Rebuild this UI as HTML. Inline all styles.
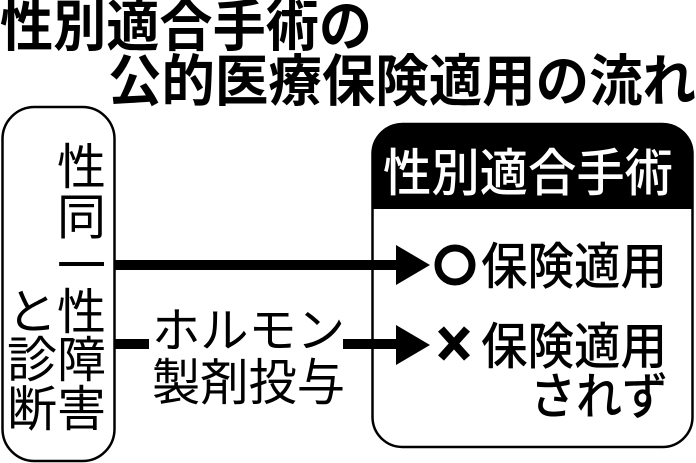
<!DOCTYPE html>
<html><head><meta charset="utf-8"><style>
html,body{margin:0;padding:0;background:#fff;width:696px;height:463px;overflow:hidden}
svg{display:block}
text{font-family:"Liberation Sans","Noto Sans CJK JP",sans-serif;fill:#000}
.b{font-weight:700}
.m{font-weight:500}
.r{font-weight:400}
</style></head><body>
<svg width="696" height="463" viewBox="0 0 696 463" xmlns="http://www.w3.org/2000/svg">
<rect width="696" height="463" fill="#fff"/>
<text class="b" x="0" y="46" font-size="56" textLength="372" lengthAdjust="spacingAndGlyphs">性別適合手術の</text>
<text class="b" x="108" y="101" font-size="56" textLength="588" lengthAdjust="spacingAndGlyphs">公的医療保険適用の流れ</text>

<rect x="2.5" y="107" width="112" height="354" rx="32" fill="#fff" stroke="#000" stroke-width="2.5"/>
<path d="M372.5 154a30 30 0 0 1 30-30h260a30 30 0 0 1 30 30v55h-320z" fill="#000"/>
<rect x="372.5" y="124" width="320" height="323" rx="30" fill="none" stroke="#000" stroke-width="2.5"/>

<g class="r" font-size="49">
<text x="57" y="184" textLength="49" lengthAdjust="spacingAndGlyphs">性</text>
<text x="57" y="234" textLength="49" lengthAdjust="spacingAndGlyphs">同</text>
<text x="57" y="283" textLength="49" lengthAdjust="spacingAndGlyphs">一</text>
<text x="57" y="329" textLength="49" lengthAdjust="spacingAndGlyphs">性</text>
<text x="57" y="377" textLength="49" lengthAdjust="spacingAndGlyphs">障</text>
<text x="57" y="426" textLength="49" lengthAdjust="spacingAndGlyphs">害</text>
<text x="7" y="329" textLength="50" lengthAdjust="spacingAndGlyphs">と</text>
<text x="7" y="377" textLength="50" lengthAdjust="spacingAndGlyphs">診</text>
<text x="7" y="426" textLength="50" lengthAdjust="spacingAndGlyphs">断</text>
</g>

<rect x="115" y="260" width="285" height="10"/>
<polygon points="396,245 430,265 396,285"/>
<rect x="115" y="339" width="34" height="10"/>
<rect x="343" y="339" width="57" height="10"/>
<polygon points="396,325 430,345 396,365"/>

<text class="r" x="152" y="347" font-size="48" textLength="193" lengthAdjust="spacingAndGlyphs">ホルモン</text>
<text class="r" x="152" y="400" font-size="50" textLength="193" lengthAdjust="spacingAndGlyphs">製剤投与</text>

<text class="m" x="383" y="191" font-size="51" style="fill:#fff" textLength="290" lengthAdjust="spacingAndGlyphs">性別適合手術</text>

<circle cx="455" cy="265" r="17" fill="none" stroke="#000" stroke-width="7"/>
<path d="M441 329L467 358M467 329L441 358" fill="none" stroke="#000" stroke-width="8"/>

<text class="m" x="481" y="284" font-size="50" textLength="186" lengthAdjust="spacingAndGlyphs">保険適用</text>
<text class="m" x="481" y="364" font-size="50" textLength="186" lengthAdjust="spacingAndGlyphs">保険適用</text>
<text class="m" x="530" y="414" font-size="50" textLength="138" lengthAdjust="spacingAndGlyphs">されず</text>
</svg>
</body></html>
